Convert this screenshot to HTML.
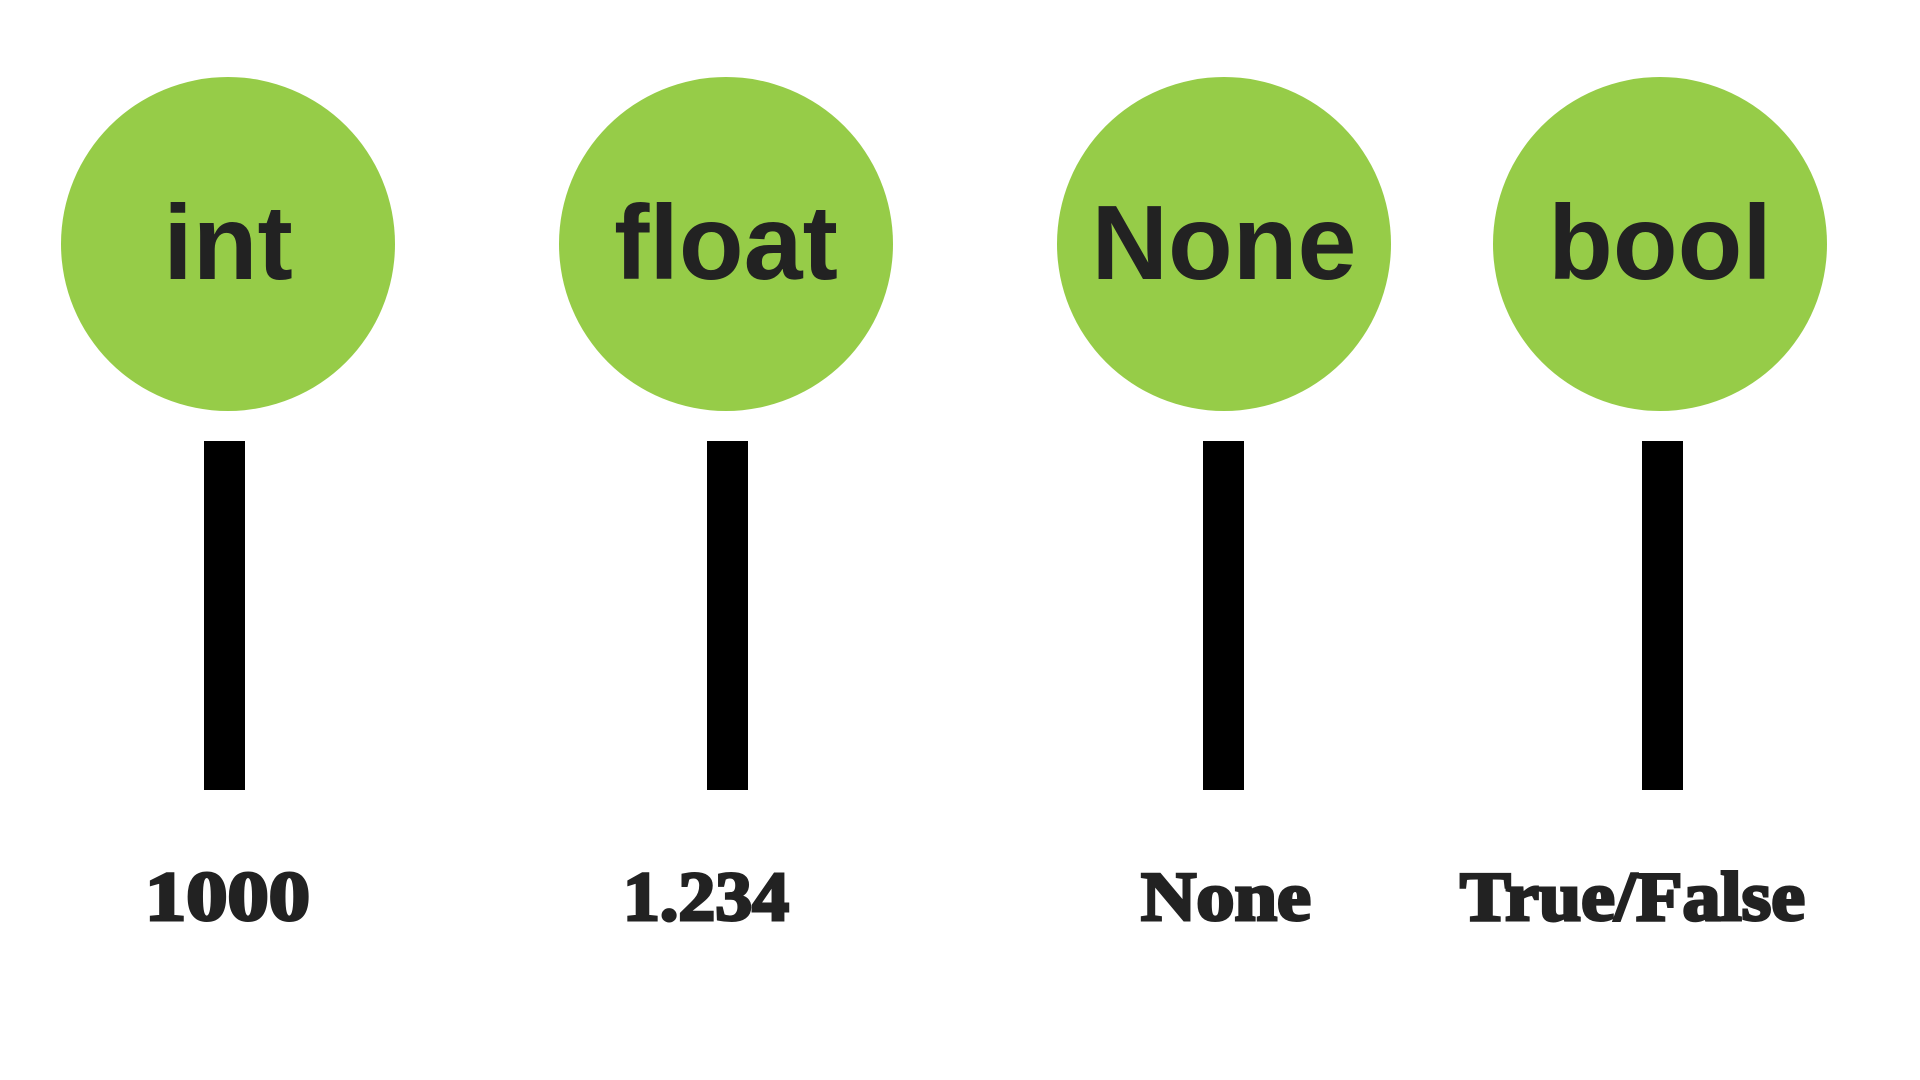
<!DOCTYPE html>
<html><head><meta charset="utf-8"><style>
html,body{margin:0;padding:0;background:#fff;width:1920px;height:1080px;overflow:hidden}
</style></head><body>
<svg id="chart" width="1920" height="1080" viewBox="0 0 1920 1080" xmlns="http://www.w3.org/2000/svg"></svg>
<script>
const typeNames = ["int", "float", "None", "bool"];
const exampleValues = ["1000", "1.234", "None", "True/False"];
const NS = "http://www.w3.org/2000/svg";
const svg = document.getElementById("chart");
const cx = [228, 726, 1224, 1660];
const barX = [204, 707, 1203, 1642];
const labelX = [145, 623, 1141, 1460];
const labelW = [165, 166, 170, 345];
function el(tag, attrs, text) {
  const e = document.createElementNS(NS, tag);
  for (const k in attrs) e.setAttribute(k, attrs[k]);
  if (text !== undefined) e.textContent = text;
  svg.appendChild(e);
  return e;
}
typeNames.forEach((t, i) => {
  const x = cx[i];
  const c = el("circle", {cx: x, cy: 244, r: 167, fill: "#96cc48"});
  
  
  const tx = el("text", {x: x, y: 279, "text-anchor": "middle", "font-family": "Liberation Sans, sans-serif", "font-weight": "bold", "font-size": 106, fill: "#222"}, t);
  
  
  const b = el("rect", {x: barX[i], y: 441, width: 41, height: 349, fill: "#000"});
  
  
  const v = el("text", {x: labelX[i], y: 920, "text-anchor": "start", "font-family": "Liberation Serif, serif", "font-weight": "bold", "font-size": 70, fill: "#222", stroke: "#222", "stroke-width": 3, textLength: labelW[i], lengthAdjust: "spacingAndGlyphs"}, exampleValues[i]);
  
  
});
</script>
</body></html>
